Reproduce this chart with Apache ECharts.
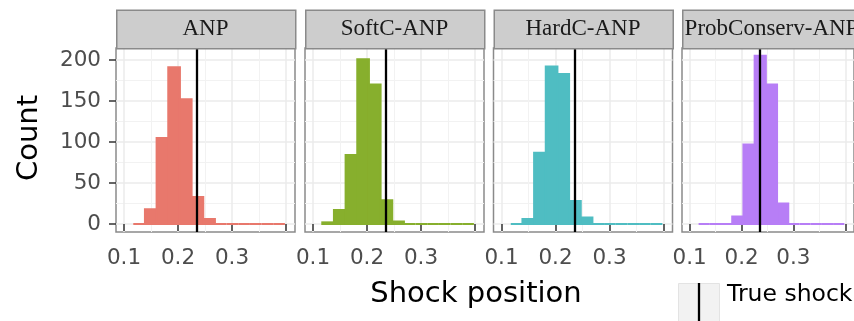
<!DOCTYPE html>
<html><head><meta charset="utf-8">
<script src="https://cdn.jsdelivr.net/npm/echarts@6/dist/echarts.min.js"></script>
<style>html,body{margin:0;padding:0;background:#fff}#c{width:854px;height:321px}</style>
</head><body><div id="c"></div>
<script>
// ---- data ----
const panels = ['ANP', 'SoftC-ANP', 'HardC-ANP', 'ProbConserv-ANP'];
const binEdges = [0.1172, 0.1388, 0.1604, 0.1820, 0.2036, 0.2252, 0.2468, 0.2684, 0.2900, 0.3116, 0.3332, 0.3548, 0.3764, 0.3980];
const countsANP = [0, 18, 105, 191, 152, 33, 6, 0, 0, 0, 0, 0, 0];
const countsSoftC = [2, 17, 84, 201, 170, 29, 3, 0, 0, 0, 0, 0, 0];
const countsHardC = [0, 6, 87, 192, 183, 28, 8, 0, 0, 0, 0, 0, 0];
const countsProb = [0, 0, 0, 9, 97, 205, 170, 25, 0, 0, 0, 0, 0];
const trueShock = 0.235;
const xMajorTicks = [0.1, 0.2, 0.3, 0.4];
const xMinorTicks = [0.15, 0.25, 0.35];
const xTickLabels = ['0.1', '0.2', '0.3', ''];
const yMajorTicks = [0, 50, 100, 150, 200];
const yMinorTicks = [25, 75, 125, 175];
const xTitle = 'Shock position';
const yTitle = 'Count';
const legendLabel = 'True shock';

// ---- layout / style ----
const allCounts = [countsANP, countsSoftC, countsHardC, countsProb];
const colors = ['#E8786C', '#87AF2D', '#4FBDC2', '#B77EF6'];
const lefts = [116, 305, 493.5, 682];
const pw = 179, gTop = 48, ph = 184;
const xMin = 0.0852, xMax = 0.4167, yMin = -9.76, yMax = 214.6;
const sans = 'DejaVu Sans';

const grid = [], xAxis = [], yAxis = [], series = [], graphic = [];
panels.forEach(function (name, i) {
  grid.push({ left: lefts[i], top: gTop, width: pw, height: ph, show: true, borderColor: '#8a8a8a', borderWidth: 1.5, backgroundColor: '#fff', containLabel: false });
  xAxis.push({
    type: 'value', gridIndex: i, min: xMin, max: xMax, position: 'bottom',
    axisLine: { show: false },
    axisTick: { show: true, customValues: xMajorTicks, length: 7, lineStyle: { color: '#333', width: 1.5 } },
    axisLabel: {
      show: true, customValues: xMajorTicks, margin: 15, color: '#4D4D4D', fontFamily: sans, fontSize: 21.5,
      formatter: function (v) { let k = 0, d = 1e9; xMajorTicks.forEach(function (t, j) { if (Math.abs(t - v) < d) { d = Math.abs(t - v); k = j; } }); return xTickLabels[k]; }
    },
    splitLine: { show: true, lineStyle: { color: '#EBEBEB', width: 1.5 } }
  });
  xAxis.push({
    type: 'value', gridIndex: i, min: xMin, max: xMax, position: 'top',
    axisLine: { show: false },
    axisTick: { show: false, customValues: xMinorTicks },
    axisLabel: { show: false, customValues: xMinorTicks },
    splitLine: { show: true, lineStyle: { color: '#F2F2F2', width: 1 } }
  });
  yAxis.push({
    type: 'value', gridIndex: i, min: yMin, max: yMax, position: 'left',
    axisLine: { show: false },
    axisTick: { show: i === 0, customValues: yMajorTicks, length: 7, lineStyle: { color: '#333', width: 1.5 } },
    axisLabel: { show: i === 0, customValues: yMajorTicks, margin: 15, color: '#4D4D4D', fontFamily: sans, fontSize: 21.5 },
    splitLine: { show: true, lineStyle: { color: '#EBEBEB', width: 1.5 } }
  });
  yAxis.push({
    type: 'value', gridIndex: i, min: yMin, max: yMax, position: 'right',
    axisLine: { show: false },
    axisTick: { show: false, customValues: yMinorTicks },
    axisLabel: { show: false, customValues: yMinorTicks },
    splitLine: { show: true, lineStyle: { color: '#F2F2F2', width: 1 } }
  });
  const data = allCounts[i].map(function (c, j) { return [binEdges[j], binEdges[j + 1], c]; });
  const col = colors[i];
  series.push({
    type: 'custom', name: name, xAxisIndex: 2 * i, yAxisIndex: 2 * i, data: data, clip: true,
    encode: { x: [0, 1], y: 2 },
    renderItem: function (params, api) {
      const p0 = api.coord([api.value(0), api.value(2)]);
      const p1 = api.coord([api.value(1), 0]);
      return { type: 'rect', shape: { x: p0[0], y: p0[1], width: p1[0] - p0[0], height: p1[1] - p0[1] }, style: { fill: col, stroke: col, lineWidth: 2 } };
    },
    markLine: {
      silent: true, symbol: ['none', 'none'], label: { show: false },
      lineStyle: { color: '#000', width: 2.3, type: 'solid' },
      data: [[{ coord: [trueShock, yMin] }, { coord: [trueShock, yMax] }]]
    }
  });
  graphic.push({ type: 'rect', left: lefts[i], top: 9.5, shape: { width: pw, height: 38.5 }, style: { fill: '#CDCDCD', stroke: '#8a8a8a', lineWidth: 1.5 }, z: 10 });
  graphic.push({ type: 'text', x: lefts[i] + pw / 2, y: 29, style: { text: name, fill: '#1A1A1A', font: '23px "Liberation Serif"', textAlign: 'center', textVerticalAlign: 'middle' }, z: 11 });
});

graphic.push({ type: 'text', x: 476, y: 294, style: { text: xTitle, fill: '#000', font: '29px "DejaVu Sans"', textAlign: 'center', textVerticalAlign: 'middle' } });
graphic.push({ type: 'text', x: 29, y: 138, rotation: Math.PI / 2, style: { text: yTitle, fill: '#000', font: '29px "DejaVu Sans"', textAlign: 'center', textVerticalAlign: 'middle' } });
graphic.push({ type: 'rect', left: 678, top: 283, shape: { width: 41, height: 42 }, style: { fill: '#F2F2F2', stroke: '#E3E3E3', lineWidth: 1 } });
graphic.push({ type: 'line', shape: { x1: 699, y1: 283, x2: 699, y2: 325 }, style: { stroke: '#000', lineWidth: 2.3 } });
graphic.push({ type: 'text', x: 727, y: 295, style: { text: legendLabel, fill: '#000', font: '23.5px "DejaVu Sans"', textAlign: 'left', textVerticalAlign: 'middle' } });

const chart = echarts.init(document.getElementById('c'), null, { renderer: 'canvas' });
chart.setOption({ animation: false, backgroundColor: '#fff', grid: grid, xAxis: xAxis, yAxis: yAxis, series: series, graphic: graphic });
</script></body></html>
